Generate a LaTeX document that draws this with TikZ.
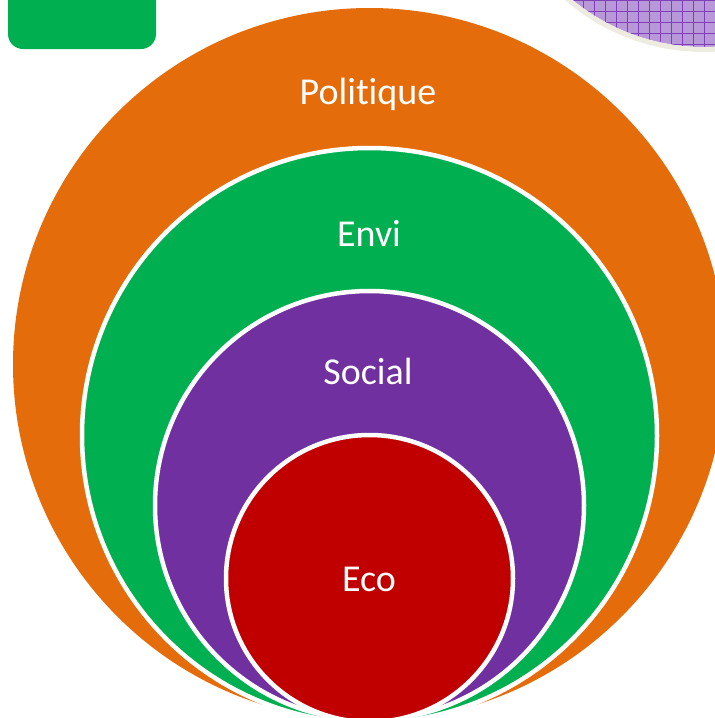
\documentclass[tikz,border=0pt]{standalone}
\usepackage{fontspec}
\setmainfont{Carlito}[Ligatures=NoCommon]
\definecolor{orng}{HTML}{E46C0A}
\definecolor{grn}{HTML}{00B050}
\definecolor{purp}{HTML}{7030A0}
\definecolor{rd}{HTML}{C00000}
\definecolor{beige}{HTML}{EEECE1}
\definecolor{lav}{HTML}{B898D8}
\definecolor{gridpurp}{HTML}{8040B8}
\begin{document}
\begin{tikzpicture}[x=1pt,y=-1pt,
  ring/.style={draw=white,line width=4.5pt},
  lbl/.style={text=white,font=\fontsize{38}{42}\selectfont,anchor=base,inner sep=0pt}]
\useasboundingbox (0,0) rectangle (715,718);
\begin{scope}
\clip (0,0) rectangle (715,718);
% green rounded tab top-left
\fill[grn, rounded corners=15pt] (8,-40) rectangle (156,49);
% hatched circle top-right
\begin{scope}
\clip (704,-160) circle (207pt);
\fill[lav] (480,-400) rectangle (740,80);
\draw[gridpurp, line width=0.8pt] (480,-400) grid[step=11pt] (740,80);
\end{scope}
\draw[beige, line width=5pt] (704,-160) circle (209.5pt);
% nested circles
\fill[orng] (369.5,364.5) circle (356.5pt);
\filldraw[fill=grn, ring] (369.5,435.5) circle (287.5pt);
\filldraw[fill=purp, ring] (369.5,505.5) circle (214.5pt);
\filldraw[fill=rd, ring] (369.5,578.5) circle (143.5pt);
\end{scope}
\node[lbl] (politique) at (368,104) {Politique};
\node[lbl] (envi) at (369,246) {Envi};
\node[lbl] (social) at (368,384) {Social};
\node[lbl] (eco) at (369,591) {Eco};
\end{tikzpicture}
\end{document}
